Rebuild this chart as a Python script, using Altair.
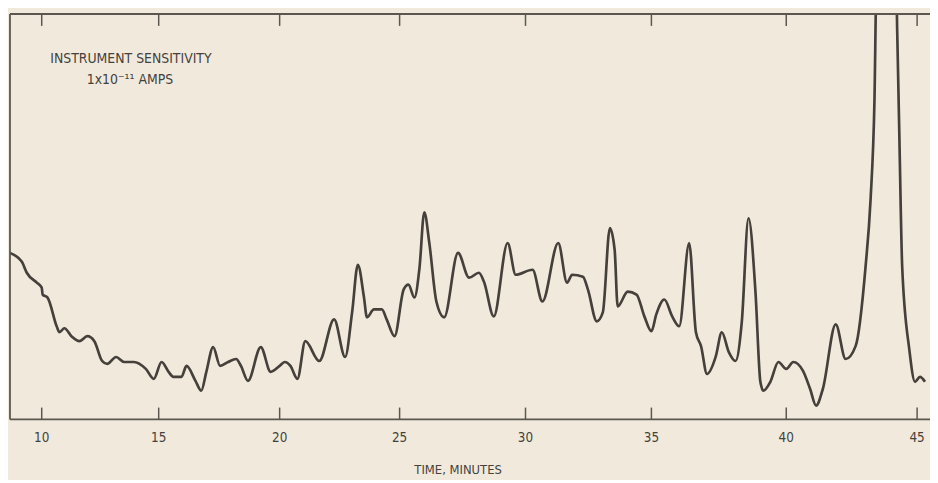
import altair as alt
import pandas as pd

# Chromatogram trace (time in minutes, response in chart units)
time_min = [8.64, 9.15, 9.36, 9.79, 10.0, 10.04, 10.25, 10.64, 10.76, 10.97,
            11.27, 11.61, 11.95, 12.25, 12.58, 12.80, 13.18, 13.52, 13.94, 14.45,
            14.79, 15.12, 15.41, 15.61, 15.94, 16.15, 16.52, 16.76, 16.97, 17.25,
            17.54, 17.87, 18.20, 18.40, 18.69, 19.22, 19.63, 20.0, 20.21, 20.45,
            20.74, 21.07, 21.65, 22.27, 22.73, 23.02, 23.26, 23.51, 23.64, 23.93,
            24.26, 24.46, 24.79, 25.16, 25.35, 25.59, 25.79, 25.98, 26.18, 26.46,
            26.77, 27.32, 27.76, 28.15, 28.35, 28.74, 29.29, 29.61, 30.28, 30.67,
            31.30, 31.65, 31.85, 32.28, 32.48, 32.83, 33.07, 33.35, 33.54, 33.66,
            34.06, 34.41, 34.72, 35.0, 35.18, 35.48, 35.77, 36.03, 36.40, 36.65,
            36.84, 37.06, 37.39, 37.61, 37.87, 38.12, 38.35, 38.60, 38.86, 39.04,
            39.15, 39.41, 39.71, 40.0, 40.27, 40.64, 40.91, 41.14, 41.40, 41.89,
            42.27, 42.65, 43.03, 43.22, 43.37, 43.45, 44.20, 44.24, 44.32, 44.43,
            44.70, 44.92, 45.11, 45.30]
response = [168, 159, 148, 138, 133, 126, 123, 94, 88, 92,
            84, 79, 84, 79, 59, 56, 63, 58, 58, 51,
            41, 58, 48, 43, 43, 54, 39, 29, 48, 73,
            54, 58, 61, 54, 39, 73, 48, 54, 58, 54,
            41, 79, 59, 101, 63, 108, 156, 124, 103, 111,
            111, 101, 84, 131, 136, 123, 153, 209, 178, 119,
            103, 168, 143, 148, 139, 104, 178, 146, 151, 119,
            178, 138, 146, 144, 131, 99, 108, 193, 171, 114,
            129, 126, 104, 89, 106, 121, 104, 94, 178, 88,
            74, 46, 64, 88, 68, 59, 98, 203, 128, 38,
            29, 38, 58, 51, 58, 49, 31, 14, 31, 96,
            61, 74, 154, 221, 321, 440, 440, 391, 288, 154,
            71, 38, 43, 38]

tick_minutes = [10, 15, 20, 25, 30, 35, 40, 45]
tick_labels = ["10", "15", "20", "25", "30", "35", "40", "45"]
axis_title = "TIME, MINUTES"
annotation_lines = ["INSTRUMENT SENSITIVITY", "1x10\u207b\u00b9\u00b9 AMPS"]

trace = pd.DataFrame({"t": time_min, "r": response})
ticks = pd.DataFrame({"t": tick_minutes, "label": tick_labels})
one = pd.DataFrame({"k": [0]})

FONT = "'Liberation Sans Narrow', 'DejaVu Sans Condensed', 'Arial Narrow', 'Roboto', sans-serif"
INK = "#45403b"
FRAME = "#5b5650"
TEXT = "#45413c"

xscale = alt.Scale(domain=[8.64, 10, 15, 20, 25, 30, 35, 40, 45, 45.49],
                   range=[0, 32, 150, 272, 393, 520, 647, 783, 915, 928],
                   nice=False, zero=False)
yscale = alt.Scale(domain=[0, 409], nice=False, zero=False)

line = alt.Chart(trace).mark_line(
    color=INK, strokeWidth=2.7, interpolate="monotone", clip=True
).encode(
    x=alt.X("t:Q", scale=xscale, axis=None),
    y=alt.Y("r:Q", scale=yscale, axis=None),
)

bottom_ticks = alt.Chart(ticks).mark_rule(color=FRAME, strokeWidth=1.5).encode(
    x=alt.X("t:Q", scale=xscale, axis=None),
    y=alt.value(397),
    y2=alt.value(409),
)
top_ticks = alt.Chart(ticks).mark_rule(color=FRAME, strokeWidth=1.5).encode(
    x=alt.X("t:Q", scale=xscale, axis=None),
    y=alt.value(0),
    y2=alt.value(12),
)
tick_text = alt.Chart(ticks).mark_text(
    font=FONT, fontSize=13.5, color=TEXT, align="center", baseline="middle"
).encode(
    x=alt.X("t:Q", scale=xscale, axis=None),
    y=alt.value(428),
    text="label:N",
)
title_text = alt.Chart(one).mark_text(
    text=axis_title, font=FONT, fontSize=13, color=TEXT, align="center", baseline="middle"
).encode(x=alt.value(452), y=alt.value(460))

baseline = alt.Chart(one).mark_rule(color=FRAME, strokeWidth=1.8).encode(
    x=alt.value(0), x2=alt.value(928), y=alt.value(409)
)
left_frame = alt.Chart(one).mark_rule(color=FRAME, strokeWidth=1.8).encode(
    x=alt.value(0), y=alt.value(0), y2=alt.value(409)
)
top_frame = alt.Chart(one).mark_rule(color=FRAME, strokeWidth=1.8).encode(
    x=alt.value(0), x2=alt.value(928), y=alt.value(0)
)

note1 = alt.Chart(one).mark_text(
    text=annotation_lines[0], font=FONT, fontSize=14, color=TEXT,
    align="center", baseline="middle"
).encode(x=alt.value(122), y=alt.value(45))
note2 = alt.Chart(one).mark_text(
    text=annotation_lines[1], font=FONT, fontSize=14, color=TEXT,
    align="center", baseline="middle"
).encode(x=alt.value(121), y=alt.value(67))

chart = alt.layer(
    line, bottom_ticks, top_ticks, baseline, left_frame, top_frame,
    tick_text, title_text, note1, note2
).properties(
    width=928, height=409,
    autosize=alt.AutoSizeParams(type="none"),
    padding={"left": 2, "top": 4, "right": 0, "bottom": 59},
    background="#F1EADC",
).configure_view(stroke=None)

chart.save("out.html", embed_options={"renderer": "svg", "actions": False})
